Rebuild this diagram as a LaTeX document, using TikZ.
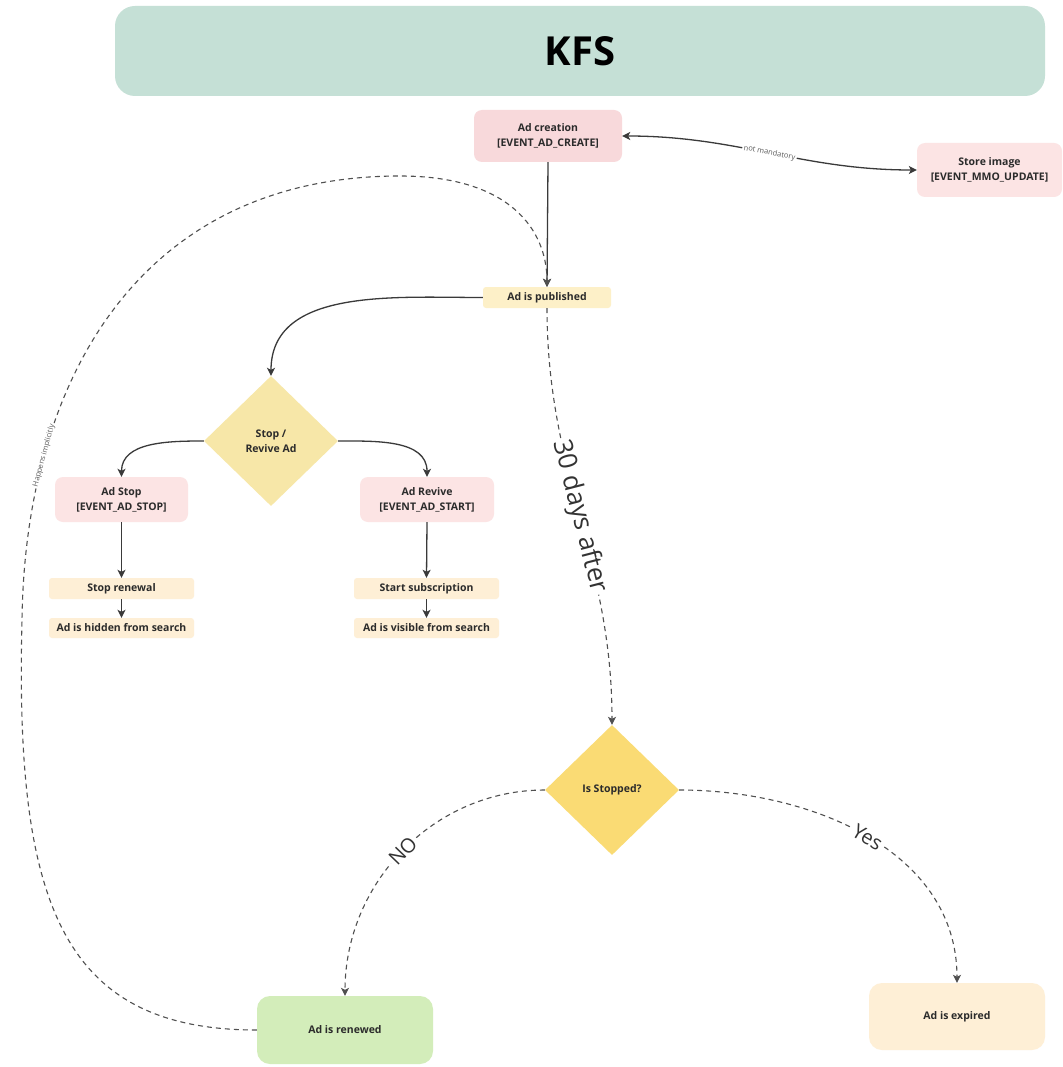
\documentclass[tikz,border=0pt]{standalone}
\usepackage{fontspec}
\setmainfont{Open Sans}
\usetikzlibrary{shapes.geometric,arrows.meta}
\definecolor{txt}{HTML}{2B2B2B}
\definecolor{ln}{HTML}{3A3A3A}
\definecolor{dln}{HTML}{505050}
\definecolor{titlec}{HTML}{C5E0D6}
\definecolor{pinkA}{HTML}{F8D9DB}
\definecolor{pinkB}{HTML}{FCE4E4}
\definecolor{yelA}{HTML}{FDF0C8}
\definecolor{orA}{HTML}{FEEFD6}
\definecolor{dia1}{HTML}{F7E7A8}
\definecolor{dia2}{HTML}{FADB74}
\definecolor{greenA}{HTML}{D3EDBA}
\definecolor{lblc}{HTML}{333333}
\definecolor{smallc}{HTML}{5A5A5A}
\tikzset{
  lbl/.style={font=\fontsize{10.5}{15}\selectfont\bfseries, text=txt, align=center, inner sep=0pt},
  bigbox/.style={lbl, rounded corners=8pt},
  thinbox/.style={lbl, rounded corners=3pt},
  roundbox/.style={lbl, rounded corners=13pt},
  decision/.style={lbl, shape=diamond, aspect=1, minimum width=134pt, minimum height=130pt},
  conn/.style={draw=ln, line width=1.3pt, -{Stealth[length=8pt,width=8pt,inset=2pt]}},
  dconn/.style={conn, draw=dln, line width=1.1pt, dash pattern=on 5pt off 4pt},
  biglbl/.style={font=\fontsize{26}{26}\selectfont, text=lblc, fill=white, inner sep=2pt},
  midlbl/.style={font=\fontsize{20}{20}\selectfont, text=lblc, fill=white, inner sep=2pt},
  smalllbl/.style={font=\fontsize{7.5}{8}\selectfont, text=smallc, fill=white, inner sep=1.5pt}
}
\begin{document}
\begin{tikzpicture}[x=1pt,y=1pt]
\useasboundingbox (0,0) rectangle (1062,-1067);
\fill[white] (0,0) rectangle (1062,-1067);

\node[rounded corners=20pt, fill=titlec, minimum width=930pt, minimum height=90pt, inner sep=0pt,
      font=\fontsize{40}{40}\selectfont\bfseries, text=black] (title) at (580,-51) {KFS};

\node[bigbox, fill=pinkA, minimum width=148pt, minimum height=52pt] (create) at (548,-136) {Ad creation\\{[EVENT\_AD\_CREATE]}};
\node[bigbox, fill=pinkB, minimum width=145pt, minimum height=54pt] (store) at (989.5,-170) {Store image\\{[EVENT\_MMO\_UPDATE]}};
\node[thinbox, fill=yelA, minimum width=128pt, minimum height=21pt] (pub) at (547,-297.5) {Ad is published};

\node[decision, fill=dia1] (d1) at (271,-441) {Stop /\\Revive Ad};

\node[bigbox, fill=pinkB, minimum width=133pt, minimum height=45pt] (stop) at (121.5,-499.5) {Ad Stop\\{[EVENT\_AD\_STOP]}};
\node[bigbox, fill=pinkB, minimum width=134pt, minimum height=45pt] (revive) at (427,-499.5) {Ad Revive\\{[EVENT\_AD\_START]}};

\node[thinbox, fill=orA, minimum width=145pt, minimum height=21pt] (stopren) at (121.5,-588.5) {Stop renewal};
\node[thinbox, fill=orA, minimum width=145pt, minimum height=20pt] (hidden) at (121.5,-628) {Ad is hidden from search};
\node[thinbox, fill=orA, minimum width=145pt, minimum height=21pt] (startsub) at (426.5,-588.5) {Start subscription};
\node[thinbox, fill=orA, minimum width=145pt, minimum height=20pt] (visible) at (426.5,-628) {Ad is visible from search};

\node[decision, fill=dia2] (d2) at (612,-790) {Is Stopped?};

\node[roundbox, fill=greenA, minimum width=176pt, minimum height=68pt] (renewed) at (345,-1030) {Ad is renewed};
\node[roundbox, fill=orA, minimum width=176pt, minimum height=67pt] (expired) at (957,-1016.5) {Ad is expired};

% connectors
\draw[conn] (create.south) -- (pub.north);
\draw[conn, {Stealth[length=8pt,width=8pt,inset=2pt]}-{Stealth[length=8pt,width=8pt,inset=2pt]}]
  (create.east) to[out=0,in=180] node[sloped, smalllbl] {not mandatory} (store.west);
\draw[conn] (pub.west) to[out=180,in=90] (d1.north);
\draw[conn] (d1.west) to[out=180,in=90] (stop.north);
\draw[conn] (d1.east) to[out=0,in=90] (revive.north);
\draw[conn] (stop.south) -- (stopren.north);
\draw[conn] (stopren.south) -- (hidden.north);
\draw[conn] (revive.south) -- (startsub.north);
\draw[conn] (startsub.south) -- (visible.north);

\draw[dconn] (pub.south) to[out=-90,in=90] node[sloped, biglbl] {30 days after} (d2.north);
\draw[dconn] (d2.west) to[out=180,in=90] node[sloped, midlbl] {NO} (renewed.north);
\draw[dconn] (d2.east) to[out=0,in=90] node[sloped, midlbl] {Yes} (expired.north);

\draw[dconn] (renewed.west) .. controls (60,-1030) and (15,-900) .. (22,-620)
  .. controls (25,-380) and (140,-176) .. (400,-176) node[pos=0.24, sloped, smalllbl] {Happens implicitly}
  .. controls (510,-176) and (547,-230) .. (pub.north);
\end{tikzpicture}
\end{document}
